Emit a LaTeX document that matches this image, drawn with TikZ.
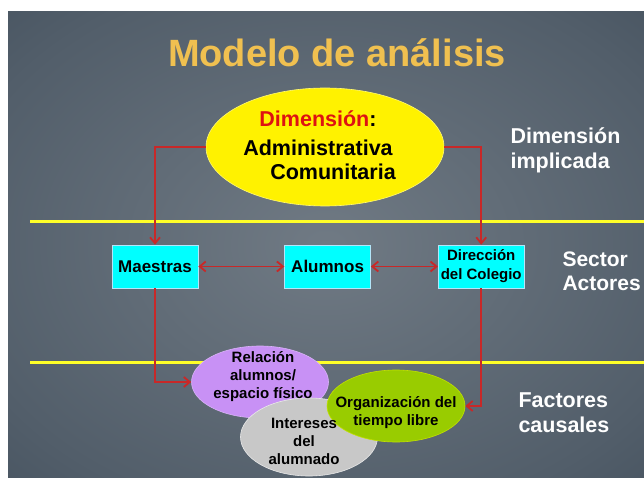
\documentclass[tikz,border=0pt]{standalone}
\usepackage{fontspec}
\setmainfont{Liberation Sans}
\usetikzlibrary{arrows.meta,shapes.geometric,positioning}
\definecolor{titlegold}{RGB}{240,192,80}
\definecolor{connred}{RGB}{200,40,40}
\definecolor{dimred}{RGB}{222,18,18}
\definecolor{boxcyan}{RGB}{0,255,255}
\definecolor{sepyellow}{RGB}{255,255,40}
\definecolor{bubviolet}{RGB}{200,145,245}
\definecolor{bubgray}{RGB}{200,200,200}
\definecolor{bubgreen}{RGB}{153,204,0}
\definecolor{bgcenter}{RGB}{112,122,132}
\definecolor{bgmid}{RGB}{82,94,106}
\definecolor{bgcorner}{RGB}{30,44,58}
\pgfdeclareradialshading{slidebg}{\pgfpoint{0bp}{0bp}}{color(0bp)=(bgcenter); color(30bp)=(bgmid); color(72bp)=(bgcorner)}

\tikzset{
  conn/.style={draw=connred, line width=1.8pt},
  arrowed/.style={-{Straight Barb[length=6pt,width=10pt]}},
  twoway/.style={{Straight Barb[length=6pt,width=10pt]}-{Straight Barb[length=6pt,width=10pt]}},
  sepline/.style={draw=sepyellow, line width=3pt},
  actorbox/.style={rectangle, fill=boxcyan, draw=cyan!30!white, line width=0.6pt,
    minimum width=86pt, minimum height=43pt, inner sep=0pt,
    font=\bfseries\fontsize{17}{19}\selectfont},
  bubble/.style={ellipse, inner sep=0pt, minimum width=137pt, minimum height=72pt, line width=0.6pt},
  bubtext/.style={font=\bfseries\fontsize{15}{18}\selectfont, align=center},
  sidelabel/.style={anchor=west, text=white, align=left, font=\bfseries\fontsize{21.5}{25}\selectfont}
}

\begin{document}
\begin{tikzpicture}[x=1pt,y=-1pt]
  \useasboundingbox (0,0) rectangle (644,478);
  % slide background
  \shade[shading=slidebg] (8,12) rectangle (644,478);

  % title
  \node[text=titlegold, font=\bfseries\fontsize{38}{44}\selectfont] (titulo) at (337,53) {Modelo de análisis};

  % dimension ellipse
  \node[ellipse, fill=yellow, draw=yellow!55!white, line width=0.6pt,
    minimum width=238pt, minimum height=118pt, inner sep=0pt] (dimension) at (325,147) {};
  \node[font=\bfseries\fontsize{21.5}{24}\selectfont, align=center] (dimtexto) at (318,145)
    {\textcolor{dimred}{Dimensión}:\\[5pt] Administrativa\\ \hspace*{30pt}Comunitaria};

  % separators
  \draw[sepline] (30,221) -- (644,221);
  \draw[sepline] (30,362) -- (644,362);

  % actors
  \node[actorbox] (maestras) at (155,266.5) {Maestras};
  \node[actorbox, right=86pt of maestras] (alumnos) {Alumnos};
  \node[actorbox, right=67pt of alumnos, align=center, font=\bfseries\fontsize{15}{19}\selectfont] (direccion) {Dirección\\del Colegio};

  % causal factors
  \node[bubble, fill=bubviolet, draw=bubviolet!70!white] (relacion) at (260,382) {};
  \node[bubble, fill=bubgray, draw=bubgray!40!white, minimum height=78pt] (intereses) at (309,437) {};
  \node[bubble, fill=bubgreen, draw=bubgreen!60!yellow, minimum width=138pt] (organizacion) at (396,406) {};
  \node[bubtext] (reltexto) at (263,377) {Relación\\alumnos/\\espacio físico};
  \node[bubtext] (inttexto) at (304,441) {Intereses\\del\\alumnado};
  \node[bubtext] (orgtexto) at (396,413) {Organización del\\tiempo libre};

  % side labels
  \node[sidelabel] (lbldim) at (507,150) {Dimensión\\implicada};
  \node[sidelabel, font=\bfseries\fontsize{21}{24}\selectfont] (lblsector) at (559,271) {Sector\\Actores};
  \node[sidelabel] (lblfactores) at (515,413) {Factores\\causales};

  % connectors
  \draw[conn, arrowed] (dimension.west) -| (maestras.north);
  \draw[conn, arrowed] (dimension.east) -| (direccion.north);
  \draw[conn, twoway] (maestras) -- (alumnos);
  \draw[conn, twoway] (alumnos) -- (direccion);
  \draw[conn, arrowed] (maestras.south) |- (relacion.west);
  \draw[conn, arrowed] (direccion.south) |- (organizacion.east);
\end{tikzpicture}
\end{document}
